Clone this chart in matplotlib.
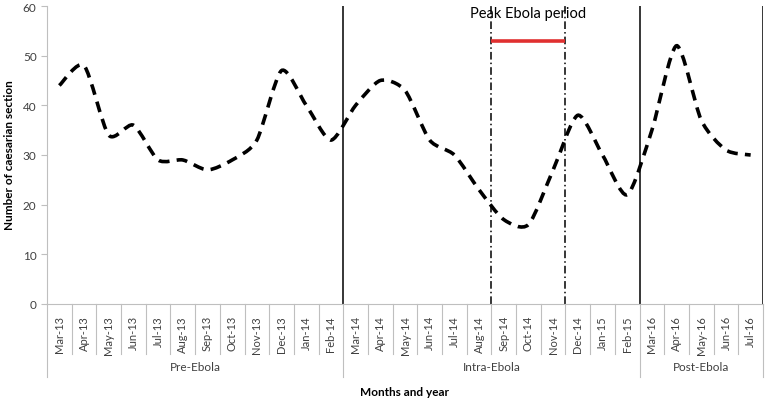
import numpy as np
import matplotlib
matplotlib.use("Agg")
import matplotlib.pyplot as plt
from matplotlib.path import Path
from matplotlib.patches import PathPatch
import matplotlib.transforms as mtrans

plt.rcParams['font.family'] = ['Lato', 'DejaVu Sans']

months = ["Mar-13", "Apr-13", "May-13", "Jun-13", "Jul-13", "Aug-13", "Sep-13", "Oct-13",
          "Nov-13", "Dec-13", "Jan-14", "Feb-14",
          "Mar-14", "Apr-14", "May-14", "Jun-14", "Jul-14", "Aug-14", "Sep-14", "Oct-14",
          "Nov-14", "Dec-14", "Jan-15", "Feb-15",
          "Mar-16", "Apr-16", "May-16", "Jun-16", "Jul-16"]
values = [44, 48, 34, 36, 29, 29, 27, 29, 33, 47, 40, 33,
          40, 45, 43, 33, 30, 23, 17, 16, 27, 38, 30, 22,
          35, 52, 37, 31, 30]
groups = ["Pre-Ebola", "Intra-Ebola", "Post-Ebola"]
group_sizes = [12, 12, 5]
peak_start, peak_end = "Sep-14", "Nov-14"
peak_level = 53

fig = plt.figure(figsize=(7.67, 4.02), dpi=100)
ax = fig.add_axes([47/767, 97/402, 716/767, 298/402])

x = np.arange(len(months))
y = np.array(values, dtype=float)

# smoothed line (Catmull-Rom -> cubic Bezier), like a spreadsheet "smoothed line"
verts = [(x[0], y[0])]
codes = [Path.MOVETO]
n = len(x)
k_s = 1 / 8.0
for i in range(n - 1):
    p0 = np.array([x[max(i-1, 0)], y[max(i-1, 0)]])
    p1 = np.array([x[i], y[i]])
    p2 = np.array([x[i+1], y[i+1]])
    p3 = np.array([x[min(i+2, n-1)], y[min(i+2, n-1)]])
    c1 = p1 + (p2 - p0) * k_s
    c2 = p2 - (p3 - p1) * k_s
    verts += [tuple(c1), tuple(c2), tuple(p2)]
    codes += [Path.CURVE4] * 3
patch = PathPatch(Path(verts, codes), fill=False, edgecolor='black', lw=2.6,
                  linestyle=(0, (3.0, 2.0)), capstyle='butt', zorder=3)
ax.add_patch(patch)

ax.set_xlim(-0.5, len(months) - 0.5)
ax.set_ylim(0, 60)
ax.set_yticks(range(0, 61, 10))
ax.tick_params(axis='y', labelsize=8.5, colors='#404040', length=4, color='#bfbfbf')
ax.set_xticks(x)
ax.set_xticklabels(months, rotation=90, fontsize=8, color='#404040')
ax.tick_params(axis='x', length=0, pad=8)

for s in ['top', 'right']:
    ax.spines[s].set_visible(False)
for s in ['left', 'bottom']:
    ax.spines[s].set_color('#bfbfbf')
    ax.spines[s].set_linewidth(0.8)

# group boundaries
bounds = np.cumsum(group_sizes) - 0.5
for b in bounds:
    ax.axvline(b, color='black', lw=1.1, zorder=2)

# peak period
i0 = months.index(peak_start) - 0.5
i1 = months.index(peak_end) + 0.5
for b in (i0, i1):
    ax.axvline(b, color='black', lw=1.1, linestyle=(0, (5, 2, 1, 2)), zorder=2)
ax.plot([i0, i1], [peak_level, peak_level], color='#e03030', lw=2.6, solid_capstyle='butt', zorder=3)
ax.text((i0 + i1) / 2, 58.6, "Peak Ebola period", ha='center', va='center', fontsize=10.5, color='black')

# multi-level category separators
trans = mtrans.blended_transform_factory(ax.transData, ax.transAxes)
month_sep_y = -50/298
group_sep_y = -73/298
starts = np.concatenate([[0], np.cumsum(group_sizes)[:-1]]) - 0.5
group_edges = set(list(starts) + list(bounds))
for k in range(len(months) + 1):
    xb = k - 0.5
    yb = group_sep_y if xb in group_edges else month_sep_y
    ax.plot([xb, xb], [0, yb], color='#bfbfbf', lw=0.8, transform=trans, clip_on=False)
for g, s0, size in zip(groups, starts, group_sizes):
    ax.text(s0 + size / 2, -63/298, g, transform=trans, ha='center', va='center',
            fontsize=8.5, color='#404040')

ax.text(0.5, -88/298, "Months and year", transform=ax.transAxes, ha='center', va='center',
        fontsize=8.5, fontweight='bold', color='black')
fig.text(10/767, (402-155)/402, "Number of caesarian section", rotation=90, ha='center',
         va='center', fontsize=8.5, fontweight='bold', color='black')

fig.savefig("out.png", dpi=100)
